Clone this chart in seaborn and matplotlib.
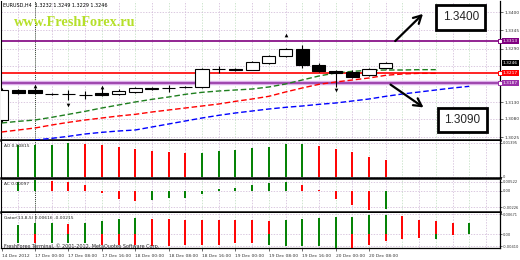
import numpy as np
import matplotlib
matplotlib.use("Agg")
import matplotlib.pyplot as plt
import matplotlib.transforms as mtransforms
import seaborn as sns

# ---------------- data ----------------
opens  = [1.3076, 1.3166, 1.3166, 1.3155, 1.3155, 1.3152, 1.3157, 1.3154, 1.3160, 1.3170, 1.3171, 1.3174,
          1.3175, 1.3229, 1.3229, 1.3226, 1.3247, 1.3268, 1.3289, 1.3241, 1.3223, 1.3220, 1.3211, 1.3232]
highs  = [1.3172, 1.3169, 1.3172, 1.3157, 1.3166, 1.3163, 1.3172, 1.3169, 1.3175, 1.3176, 1.3181, 1.3178,
          1.3232, 1.3238, 1.3232, 1.3253, 1.3271, 1.3292, 1.3301, 1.3247, 1.3226, 1.3226, 1.3232, 1.3249]
lows   = [1.3070, 1.3154, 1.3154, 1.3151, 1.3136, 1.3139, 1.3148, 1.3151, 1.3157, 1.3167, 1.3160, 1.3172,
          1.3172, 1.3217, 1.3223, 1.3226, 1.3244, 1.3265, 1.3232, 1.3220, 1.3175, 1.3202, 1.3208, 1.3229]
closes = [1.3166, 1.3157, 1.3157, 1.3154, 1.3154, 1.3151, 1.3151, 1.3163, 1.3172, 1.3172, 1.3172, 1.3175,
          1.3229, 1.3228, 1.3226, 1.3250, 1.3268, 1.3289, 1.3241, 1.3223, 1.3217, 1.3205, 1.3229, 1.3246]

lips_green = [1.3067, 1.3072, 1.3076, 1.3084, 1.3093, 1.3102, 1.3112, 1.3121, 1.3130, 1.3138, 1.3145,
              1.3153, 1.3159, 1.3163, 1.3166, 1.3169, 1.3175, 1.3184, 1.3196, 1.3208, 1.3217, 1.3222,
              1.3225, 1.3226, 1.3226, 1.3227, 1.3227]
teeth_red = [1.3040, 1.3046, 1.3052, 1.3061, 1.3069, 1.3076, 1.3082, 1.3088, 1.3093, 1.3100, 1.3106,
             1.3112, 1.3118, 1.3124, 1.3132, 1.3139, 1.3147, 1.3160, 1.3172, 1.3183, 1.3190, 1.3196,
             1.3202, 1.3210, 1.3214, 1.3216, 1.3216]
jaw_blue = [1.3007, 1.3012, 1.3016, 1.3021, 1.3027, 1.3034, 1.3039, 1.3043, 1.3046, 1.3055, 1.3064,
            1.3073, 1.3082, 1.3090, 1.3097, 1.3103, 1.3109, 1.3114, 1.3118, 1.3123, 1.3127, 1.3133,
            1.3139, 1.3147, 1.3154, 1.3160, 1.3166, 1.3172, 1.3177]

resistance_level = 1.3313
red_level = 1.3217
support_level = 1.3187
bid_price = 1.3246

fractal_up_idx = [2, 6, 17]
fractal_up_price = [1.3177, 1.3175, 1.3331]
fractal_dn_idx = [4, 20]
fractal_dn_price = [1.3121, 1.3166]

target_up_text = "1.3400"
target_dn_text = "1.3090"

ao_values = [0.0129, 0.0131, 0.0133, 0.0139, 0.0137, 0.0131, 0.0123, 0.0114, 0.0106, 0.0102, 0.0096,
             0.0098, 0.0106, 0.0110, 0.0119, 0.0123, 0.0134, 0.0136, 0.0127, 0.0114, 0.0102, 0.0081, 0.0069]
ac_values = [0.00126, 0.00154, 0.00140, 0.00133, 0.00084, -0.00028, -0.00112, -0.00140, -0.00126,
             -0.00098, -0.00091, -0.00042, 0.00028, 0.00042, 0.00084, 0.00112, 0.00126, 0.00084,
             0.00014, -0.00112, -0.00196, -0.00259, -0.00252]
gator_upper = [0.00316, 0.00374, 0.00384, 0.00357, 0.00374, 0.00452, 0.00510, 0.00544, 0.00527, 0.00510,
               0.00486, 0.00479, 0.00476, 0.00473, 0.00466, 0.00459, 0.00486, 0.00510, 0.00544, 0.00578,
               0.00588, 0.00646, 0.00656, 0.00622, 0.00486, 0.00432, 0.00374, 0.00384]
gator_lower = [-0.00306, -0.00300, -0.00306, -0.00306, -0.00310, -0.00364, -0.00364, -0.00364, -0.00418,
               -0.00418, -0.00364, -0.00364, -0.00364, -0.00306, -0.00306, -0.00364, -0.00418, -0.00418,
               -0.00418, -0.00476, -0.00476, -0.00364, -0.00228, -0.00170, -0.00136, -0.00170, -0.00024]
gator_lower_up = [1, 0, 1, 1, 1, 0, 0, 0, 0, 0, 0, 0, 0, 0, 0, 1, 1, 1, 1, 1, 0, 0, 0, 0, 0, 1, 0]

price_grid = [1.3400, 1.3345, 1.3290, 1.3239, 1.3185, 1.3130, 1.3080, 1.3025]
price_ticks = [1.3400, 1.3345, 1.3290, 1.3130, 1.3080, 1.3025]
ao_ticks, ao_tick_labels = [0.01395, 0.0], ["0.01395", "0"]
ac_ticks, ac_tick_labels = [0.00133, 0.0, -0.00226], ["0.00522", "0.00", "-0.00226"]
gt_ticks, gt_tick_labels = [0.00671, 0.0, -0.00410], ["0.00671", "0.00", "-0.00410"]

time_tick_idx = [0, 2, 4, 6, 8, 10, 12, 14, 16, 18, 20, 22]
time_labels = ["14 Dec 2012", "17 Dec 00:00", "17 Dec 08:00", "17 Dec 16:00", "18 Dec 00:00",
               "18 Dec 08:00", "18 Dec 16:00", "19 Dec 00:00", "19 Dec 08:00", "19 Dec 16:00",
               "20 Dec 00:00", "20 Dec 08:00"]

# ---------------- style ----------------
sns.set_style("white")
plt.rcParams["font.family"] = ["DejaVu Sans"]

W, H = 520, 260
fig = plt.figure(figsize=(5.2, 2.6), dpi=100)
fig.patch.set_facecolor("white")


def rect(x0, y0, x1, y1):
    return [x0 / W, 1 - y1 / H, (x1 - x0) / W, (y1 - y0) / H]


ax_main = fig.add_axes(rect(1, 1, 500, 140))
ax_ao = fig.add_axes(rect(1, 141, 500, 178), sharex=ax_main)
ax_ac = fig.add_axes(rect(1, 180, 500, 212), sharex=ax_main)
ax_gt = fig.add_axes(rect(1, 213, 500, 248), sharex=ax_main)
axes = [ax_main, ax_ao, ax_ac, ax_gt]

GREEN, RED = "#008000", "#ff0000"
GRID = "#cdb4d4"
GRID2 = "#bcdcbc"
TICKFS = 3.2
SMALLFS = 2.6

ax_main.set_xlim(-0.036, 29.844)
ax_main.set_ylim(1.3016, 1.3433)
ax_ao.set_ylim(-0.00062, 0.01477)
ax_ac.set_ylim(-0.00294, 0.00154)
ax_gt.set_ylim(-0.00476, 0.00714)

for ax in axes:
    ax.set_facecolor("white")
    ax.yaxis.tick_right()
    ax.tick_params(axis="y", labelsize=TICKFS, length=2, width=0.5, pad=1.2, colors="#333333")
    ax.tick_params(axis="x", bottom=False, labelbottom=False)
    ax.spines["top"].set_visible(False)
    ax.spines["right"].set_color("black")
    ax.spines["right"].set_linewidth(0.9)
    ax.spines["left"].set_color("black")
    ax.spines["left"].set_linewidth(0.8)
    ax.spines["bottom"].set_color("black")
    ax.spines["bottom"].set_linewidth(1.8)
    for i in range(1, 30):
        ax.axvline(i, color=GRID if i % 2 else GRID2, lw=0.5, ls=(0, (2, 2)), zorder=0)
    ax.axvline(2, color="black", lw=0.6, ls=(0, (1, 1.5)), zorder=1)
ax_gt.spines["bottom"].set_linewidth(0.9)
for ax in [ax_ao, ax_ac, ax_gt]:
    ax.tick_params(axis="y", labelsize=SMALLFS, length=1.5, pad=0.5)

# ---------------- main price panel ----------------
ax_main.set_yticks(price_ticks)
ax_main.set_yticklabels([f"{p:.4f}" for p in price_ticks])
for p in price_grid:
    ax_main.axhline(p, color=GRID, lw=0.5, ls=(0, (2, 2)), zorder=0)

# horizontal levels
ax_main.axhline(resistance_level, color="#800080", lw=1.2, zorder=2)
ax_main.axhline(red_level, color=RED, lw=1.2, zorder=2)
ax_main.axhline(support_level, color="#dcb0ea", lw=3.2, zorder=2)
ax_main.axhline(support_level, color="#8e2a9e", lw=1.1, zorder=2)

# alligator-like moving averages
sns.lineplot(x=np.arange(len(jaw_blue)), y=jaw_blue, ax=ax_main, color="#0000ff", lw=1,
             linestyle=(0, (4, 2)), estimator=None, zorder=3)
sns.lineplot(x=np.arange(len(teeth_red)), y=teeth_red, ax=ax_main, color=RED, lw=1,
             linestyle=(0, (4, 2)), estimator=None, zorder=3)
sns.lineplot(x=np.arange(len(lips_green)), y=lips_green, ax=ax_main, color="#1f7f1f", lw=1,
             linestyle=(0, (4, 2)), estimator=None, zorder=3)

# candles
idx = np.arange(len(opens))
o, c = np.array(opens), np.array(closes)
hi, lo = np.array(highs), np.array(lows)
body_lo = np.minimum(o, c)
body_h = np.maximum(np.abs(c - o), 0.00004)
ax_main.vlines(idx, lo, hi, color="black", lw=0.8, zorder=4)
ax_main.bar(idx, body_h, bottom=body_lo, width=0.78,
            color=["white" if cc >= oo else "black" for oo, cc in zip(o, c)],
            edgecolor="black", linewidth=0.8, zorder=5)

# fractals
ax_main.scatter(fractal_up_idx, fractal_up_price, marker="^", s=7, color="black", zorder=6, linewidths=0)
ax_main.scatter(fractal_dn_idx, fractal_dn_price, marker="v", s=7, color="black", zorder=6, linewidths=0)

# right-side value boxes
trans = mtransforms.blended_transform_factory(ax_main.transAxes, ax_main.transData)
for price, col in [(resistance_level, "#800080"), (bid_price, "black"),
                   (red_level, RED), (support_level, "#9a2fa8")]:
    ax_main.text(1.006, price, f"{price:.4f}", transform=trans, fontsize=TICKFS, color="white",
                 va="center", ha="left", clip_on=False, zorder=10,
                 bbox=dict(boxstyle="square,pad=0.25", fc=col, ec="none"))
    if col != "black":
        ax_main.plot([1.0], [price], marker="s", ms=2.2, mfc="white", mec=col, mew=0.7,
                     transform=trans, clip_on=False, zorder=11)

# annotations: arrows and target boxes
arrow_kw = dict(arrowstyle="->,head_length=0.55,head_width=0.3", color="black", lw=1.6, mutation_scale=10)
ax_main.annotate("", xy=(25.35, 1.3400), xytext=(23.45, 1.3307), arrowprops=arrow_kw, zorder=8)
ax_main.annotate("", xy=(25.4, 1.3109), xytext=(23.15, 1.3187), arrowprops=arrow_kw, zorder=8)
ax_main.text(27.5, 1.33835, target_up_text, fontsize=8.5, family="Liberation Sans", ha="center",
             va="center", zorder=9,
             bbox=dict(boxstyle="square,pad=0.55", fc="white", ec="black", lw=2))
ax_main.text(27.6, 1.3076, target_dn_text, fontsize=8.5, family="Liberation Sans", ha="center",
             va="center", zorder=9,
             bbox=dict(boxstyle="square,pad=0.55", fc="white", ec="black", lw=2))

fig.text(3 / W, 1 - 5 / H,
         f"EURUSD,H4  {opens[-1]:.4f} {highs[-1]:.4f} {lows[-1]:.4f} {closes[-1]:.4f}",
         fontsize=3.5, va="center", ha="left", color="black")
fig.text(14 / W, 1 - 22 / H, "www.FreshForex.ru", fontsize=10.3, fontweight="bold",
         family="Liberation Serif", color="#b5e02a", va="center", ha="left")

# ---------------- AO panel ----------------
ao_idx = np.arange(1, 1 + len(ao_values))
ao_col = [GREEN] + [GREEN if ao_values[k] > ao_values[k - 1] else RED for k in range(1, len(ao_values))]
ax_ao.vlines(ao_idx, 0, ao_values, colors=ao_col, lw=1.4, zorder=3)
ax_ao.set_yticks(ao_ticks)
ax_ao.set_yticklabels(ao_tick_labels)
for t in ao_ticks:
    ax_ao.axhline(t, color=GRID, lw=0.5, ls=(0, (2, 2)), zorder=0)
ax_ao.text(0.006, 0.86, f"AO {0.00815:.5f}", transform=ax_ao.transAxes, fontsize=TICKFS, va="center")

# ---------------- AC panel ----------------
ac_idx = np.arange(1, 1 + len(ac_values))
ac_col = [GREEN] + [GREEN if ac_values[k] > ac_values[k - 1] else RED for k in range(1, len(ac_values))]
ax_ac.vlines(ac_idx, 0, ac_values, colors=ac_col, lw=1.4, zorder=3)
ax_ac.set_yticks(ac_ticks)
ax_ac.set_yticklabels(ac_tick_labels)
for t in ac_ticks:
    ax_ac.axhline(t, color=GRID, lw=0.5, ls=(0, (2, 2)), zorder=0)
ax_ac.text(0.006, 0.87, "AC 0.00097", transform=ax_ac.transAxes, fontsize=TICKFS, va="center")

# ---------------- Gator panel ----------------
gu_idx = np.arange(1, 1 + len(gator_upper))
gu_col = [GREEN] + [GREEN if gator_upper[k] > gator_upper[k - 1] else RED for k in range(1, len(gator_upper))]
gl_idx = np.arange(1, 1 + len(gator_lower))
gl_col = [GREEN if f else RED for f in gator_lower_up]
ax_gt.vlines(gu_idx, 0, gator_upper, colors=gu_col, lw=1.4, zorder=3)
ax_gt.vlines(gl_idx, gator_lower, 0, colors=gl_col, lw=1.4, zorder=3)
ax_gt.set_yticks(gt_ticks)
ax_gt.set_yticklabels(gt_tick_labels)
for t in gt_ticks:
    ax_gt.axhline(t, color=GRID, lw=0.5, ls=(0, (2, 2)), zorder=0)
ax_gt.text(0.006, 0.855, "Gator(13,8,5) 0.00616 -0.00215", transform=ax_gt.transAxes,
           fontsize=TICKFS, va="center")
ax_gt.text(0.006, 0.06, "FreshForex Terminal, \u00a9 2001-2012, MetaQuotes Software Corp.",
           transform=ax_gt.transAxes, fontsize=3.5, va="center", zorder=12)

ax_gt.set_xticks(time_tick_idx)
ax_gt.set_xticklabels(time_labels)
ax_gt.tick_params(axis="x", bottom=True, labelbottom=True, labelsize=TICKFS, length=2,
                  width=0.5, pad=2, colors="#333333")
for t in ax_gt.get_xticklabels():
    t.set_ha("left")

fig.savefig("out.png", dpi=100, facecolor="white")
